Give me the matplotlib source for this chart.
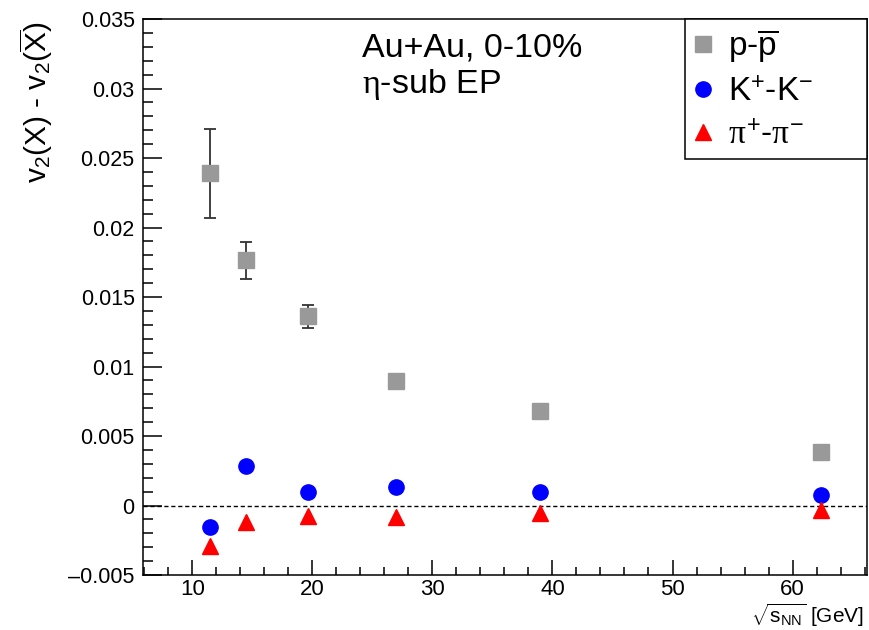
import numpy as np
import matplotlib.pyplot as plt
from matplotlib.ticker import MultipleLocator

plt.rcParams['font.family'] = ['Liberation Sans', 'DejaVu Sans']
plt.rcParams['mathtext.fontset'] = 'custom'
plt.rcParams['mathtext.rm'] = 'Liberation Sans'
plt.rcParams['mathtext.it'] = 'Liberation Serif'
plt.rcParams['mathtext.bf'] = 'Liberation Sans:bold'

# beam energies (GeV)
energy = [11.5, 14.5, 19.6, 27.0, 39.0, 62.4]

# v2(X) - v2(Xbar), 0-10% centrality
p_diff = [0.0239, 0.01766, 0.01363, 0.00898, 0.00682, 0.00386]
p_err = [0.0032, 0.00133, 0.00083, 0.0002, 0.0002, 0.0002]
k_diff = [-0.00155, 0.00286, 0.00097, 0.00131, 0.00097, 0.00079]
pi_diff = [-0.00289, -0.00119, -0.00073, -0.00085, -0.00056, -0.00034]

fig = plt.figure(figsize=(8.69, 6.3), dpi=100)
ax = fig.add_axes([0.1646, 0.0873, 0.8331, 0.8825])

ax.axhline(0, color="black", ls=(0, (3, 2)), lw=1.0, zorder=1)

ax.errorbar(energy, p_diff, yerr=p_err, fmt="none",
            ecolor="#333333", elinewidth=1.3, capsize=4, capthick=1.3, zorder=2)
h_p, = ax.plot(energy, p_diff, "s", color="#999999", ms=11,
               label=r"p-$\overline{\mathrm{p}}$", zorder=3)
h_k, = ax.plot(energy, k_diff, "o", color="#0000ff", ms=11,
               label=r"K$^{+}$-K$^{-}$", zorder=3)
h_pi, = ax.plot(energy, pi_diff, "^", color="#ff0000", ms=11,
                label=r"$\pi^{+}$-$\pi^{-}$", zorder=3)

ax.set_xlim(5.9, 66.2)
ax.set_ylim(-0.005, 0.035)

ax.xaxis.set_major_locator(MultipleLocator(10))
ax.xaxis.set_minor_locator(MultipleLocator(2))
ax.yaxis.set_major_locator(MultipleLocator(0.005))
ax.yaxis.set_minor_locator(MultipleLocator(0.001))
ax.yaxis.set_major_formatter(plt.FuncFormatter(lambda v, p: "0" if abs(v) < 1e-12 else ("\u2013" + f"{-v:g}" if v < 0 else f"{v:g}")))

ax.tick_params(which="both", direction="in", top=False, right=False,
               labelsize=15.5, width=1.1, colors="black")
ax.tick_params(which="major", length=14, pad=6)
ax.tick_params(which="minor", length=7)
ax.tick_params(axis="x", which="major", length=11, pad=3, labelsize=16)
ax.tick_params(axis="x", which="minor", length=6)
for s in ax.spines.values():
    s.set_linewidth(1.1)

ax.set_ylabel(r"v$_{2}$(X) - v$_{2}$($\overline{\mathrm{X}}$)", fontsize=21.5)
ax.yaxis.set_label_coords(-0.122, 0.85)
ax.set_xlabel(r"$\sqrt{\mathrm{s}_{\mathrm{NN}}}$ [GeV]", fontsize=15)
ax.xaxis.set_label_coords(0.995, -0.048)
ax.xaxis.label.set_horizontalalignment("right")

ax.text(0.303, 0.933, "Au+Au, 0-10%", transform=ax.transAxes, fontsize=24.5)
ax.text(0.303, 0.867, r"$\eta$-sub EP", transform=ax.transAxes, fontsize=24.5)

leg = ax.legend(handles=[h_p, h_k, h_pi], loc="upper left",
                bbox_to_anchor=(0.7486, 0.7518, 0.2514, 0.2482),
                mode="expand", borderaxespad=0, fontsize=24, frameon=True,
                fancybox=False, edgecolor="black", framealpha=1,
                handlelength=0.6, handletextpad=0.45, labelspacing=0.36,
                borderpad=0.25, numpoints=1)
leg.get_frame().set_linewidth(1.1)

fig.savefig("out.png", dpi=100)
